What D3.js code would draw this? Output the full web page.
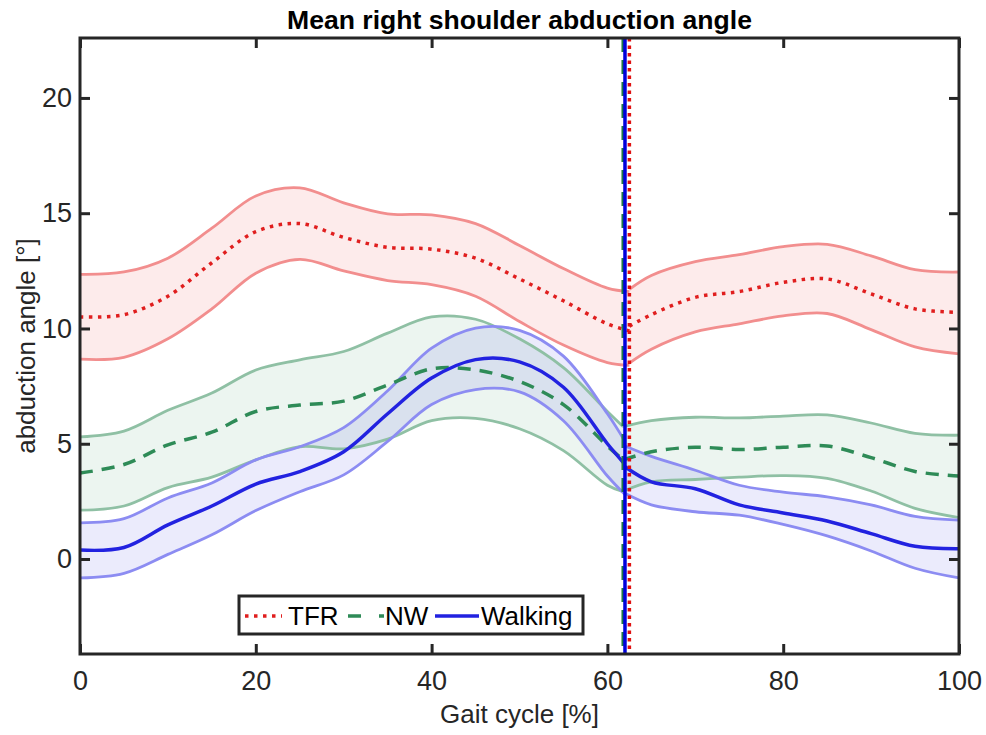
<!DOCTYPE html>
<meta charset="utf-8">
<html>
<head>
<title>Mean right shoulder abduction angle</title>
<script src="https://d3js.org/d3.v7.min.js"></script>
<style>
  body { margin: 0; background: #fff; }
  svg text { font-family: "Liberation Sans", Arial, sans-serif; fill: #262626; }
</style>
</head>
<body>
<script type="text/javascript">

// gait cycle sample points (the event point is added before / after)
var xPre = [0, 5, 10, 15, 20, 25, 30, 35, 40, 45, 50, 55, 60];
var xPost = [65, 70, 75, 80, 85, 90, 95, 100];

// event (end of stance) for each condition, % gait cycle
var tfrEvent = 62.5;
var nwEvent = 61.8;
var walkEvent = 62.0;

// TFR : mean and band, degrees (last pre value / first post value = at event)
var tfrUpperPre = [12.35, 12.45, 13.05, 14.35, 15.75, 16.1, 15.45, 14.97, 14.93, 14.55, 13.6, 12.6, 11.75, 11.6];
var tfrMeanPre  = [10.5, 10.6, 11.4, 12.85, 14.2, 14.55, 13.95, 13.52, 13.44, 13.05, 12.15, 11.2, 10.2, 9.9];
var tfrLowerPre = [8.67, 8.75, 9.55, 10.85, 12.4, 13.0, 12.5, 12.08, 11.9, 11.4, 10.3, 9.28, 8.52, 8.4];
var tfrUpperPost = [11.7, 12.3, 12.9, 13.2, 13.55, 13.65, 13.15, 12.55, 12.45];
var tfrMeanPost  = [10.1, 10.6, 11.35, 11.6, 12.0, 12.15, 11.5, 10.85, 10.7];
var tfrLowerPost = [8.5, 9.1, 9.85, 10.2, 10.55, 10.65, 9.95, 9.2, 8.9];

// NW
var nwUpperPre = [5.3, 5.55, 6.45, 7.2, 8.2, 8.64, 9.0, 9.8, 10.5, 10.4, 9.55, 8.3, 6.4, 5.74];
var nwMeanPre  = [3.73, 4.1, 4.95, 5.5, 6.4, 6.68, 6.85, 7.55, 8.25, 8.2, 7.7, 6.7, 4.9, 4.3];
var nwLowerPre = [2.12, 2.3, 3.1, 3.55, 4.3, 4.87, 4.78, 5.2, 6.0, 6.1, 5.65, 4.7, 3.2, 2.92];
var nwUpperPost = [5.74, 6.0, 6.15, 6.12, 6.2, 6.25, 5.9, 5.45, 5.37];
var nwMeanPost  = [4.3, 4.65, 4.85, 4.75, 4.85, 4.9, 4.4, 3.8, 3.6];
var nwLowerPost = [2.95, 3.35, 3.45, 3.55, 3.62, 3.5, 2.95, 2.2, 1.8];

// Walking
var walkUpperPre = [1.57, 1.75, 2.65, 3.3, 4.3, 4.87, 5.7, 7.3, 9.15, 10.02, 9.92, 8.8, 6.3, 5.1];
var walkMeanPre  = [0.39, 0.5, 1.48, 2.3, 3.25, 3.79, 4.65, 6.3, 7.85, 8.65, 8.55, 7.45, 5.0, 4.1];
var walkLowerPre = [-0.82, -0.62, 0.2, 1.05, 2.1, 2.92, 3.65, 5.1, 6.7, 7.35, 7.25, 6.0, 3.6, 2.8];
var walkUpperPost = [4.9, 4.45, 3.85, 3.2, 2.9, 2.7, 2.35, 1.85, 1.69];
var walkMeanPost  = [4.0, 3.35, 3.05, 2.35, 2.0, 1.65, 1.1, 0.55, 0.45];
var walkLowerPost = [2.85, 2.35, 2.05, 1.9, 1.5, 1.0, 0.35, -0.4, -0.82];

// ticks and labels
var xTicks = [0, 20, 40, 60, 80, 100];
var yTicks = [0, 5, 10, 15, 20];
var legendLabels = ["TFR", "NW", "Walking"];

drawChart();

function drawChart() {

	var width = 986;
	var height = 735;
	var margin = {top: 38, right: 27, bottom: 81, left: 80};

	var svg = d3.select("body")
		.append("svg")
		.attr("width", width)
		.attr("height", height);

	svg.append("rect")
		.attr("width", width)
		.attr("height", height)
		.style("fill", "#fff");

	var x = d3.scaleLinear()
		.domain([0, 100])
		.range([margin.left, width - margin.right]);

	var y = d3.scaleLinear()
		.domain([-4.12, 22.6])
		.range([height - margin.bottom, margin.top]);

	// build the conditions from the arrays above
	var groups = [
		{ name: "TFR", ev: tfrEvent, mean: "#e01e1e", band: "#f28e8e", fill: "#e61e1e", dash: "3.5,5.5",
		  upPre: tfrUpperPre, mPre: tfrMeanPre, loPre: tfrLowerPre, upPost: tfrUpperPost, mPost: tfrMeanPost, loPost: tfrLowerPost },
		{ name: "NW", ev: nwEvent, mean: "#2e8b57", band: "#8fc0a4", fill: "#2e8b57", dash: "13,9",
		  upPre: nwUpperPre, mPre: nwMeanPre, loPre: nwLowerPre, upPost: nwUpperPost, mPost: nwMeanPost, loPost: nwLowerPost },
		{ name: "Walking", ev: walkEvent, mean: "#2222e0", band: "#8c8cf2", fill: "#2222e0", dash: null,
		  upPre: walkUpperPre, mPre: walkMeanPre, loPre: walkLowerPre, upPost: walkUpperPost, mPost: walkMeanPost, loPost: walkLowerPost }
	];

	function segment(xs, up, m, lo) {
		return xs.map(function(d, i) { return {x: d, up: up[i], m: m[i], lo: lo[i]}; });
	}

	groups.forEach(function(g) {
		g.segs = [
			segment(xPre.concat([g.ev]), g.upPre, g.mPre, g.loPre),
			segment([g.ev].concat(xPost), g.upPost, g.mPost, g.loPost)
		];
	});

	var curve = d3.curveCatmullRom.alpha(0.5);

	var area = d3.area()
		.curve(curve)
		.x(function(d) { return x(d.x); })
		.y0(function(d) { return y(d.lo); })
		.y1(function(d) { return y(d.up); });

	function line(key) {
		return d3.line()
			.curve(curve)
			.x(function(d) { return x(d.x); })
			.y(function(d) { return y(d[key]); });
	}

	var plot = svg.append("g");

	// transparent bands first
	groups.forEach(function(g) {
		g.segs.forEach(function(s) {
			plot.append("path")
				.attr("d", area(s))
				.style("fill", g.fill)
				.style("fill-opacity", 0.09)
				.style("stroke", "none");
		});
	});

	// band edges
	groups.forEach(function(g) {
		g.segs.forEach(function(s) {
			["up", "lo"].forEach(function(k) {
				plot.append("path")
					.attr("d", line(k)(s))
					.style("fill", "none")
					.style("stroke", g.band)
					.style("stroke-width", 2.8);
			});
		});
	});

	// means
	groups.forEach(function(g) {
		g.segs.forEach(function(s) {
			plot.append("path")
				.attr("d", line("m")(s))
				.style("fill", "none")
				.style("stroke", g.mean)
				.style("stroke-width", 3.5)
				.style("stroke-dasharray", g.dash);
		});
	});

	// event lines
	var evLines = [
		{ ev: nwEvent, color: "#1f7a45", dash: "14,8" },
		{ ev: walkEvent, color: "#0000dc", dash: null },
		{ ev: tfrEvent, color: "#e01010", dash: "3.5,4" }
	];
	plot.selectAll(".evline")
		.data(evLines)
		.enter()
		.append("line")
		.attr("x1", function(d) { return x(d.ev); })
		.attr("x2", function(d) { return x(d.ev); })
		.attr("y1", y.range()[1])
		.attr("y2", y.range()[0])
		.style("stroke", function(d) { return d.color; })
		.style("stroke-width", 3.5)
		.style("stroke-dasharray", function(d) { return d.dash; });

	// axes, ticks inward on all four sides
	var axisColor = "#262626";
	var tickLen = 10;

	var xb = svg.append("g")
		.attr("transform", "translate(0," + y.range()[0] + ")")
		.call(d3.axisBottom(x).tickValues(xTicks).tickSizeInner(-tickLen).tickSizeOuter(0).tickPadding(17));
	var xt = svg.append("g")
		.attr("transform", "translate(0," + y.range()[1] + ")")
		.call(d3.axisTop(x).tickValues(xTicks).tickSizeInner(-tickLen).tickSizeOuter(0).tickFormat(""));
	var yl = svg.append("g")
		.attr("transform", "translate(" + x.range()[0] + ",0)")
		.call(d3.axisLeft(y).tickValues(yTicks).tickSizeInner(-tickLen).tickSizeOuter(0).tickPadding(8));
	var yr = svg.append("g")
		.attr("transform", "translate(" + x.range()[1] + ",0)")
		.call(d3.axisRight(y).tickValues(yTicks).tickSizeInner(-tickLen).tickSizeOuter(0).tickFormat(""));

	[xb, xt, yl, yr].forEach(function(a) {
		a.select(".domain").remove();
		a.selectAll(".tick line").style("stroke", axisColor).style("stroke-width", 3);
		a.selectAll(".tick text")
			.style("font-size", "27px")
			.style("font-family", "'Liberation Sans', Arial, sans-serif")
			.style("fill", axisColor);
	});
	xb.selectAll(".tick text").attr("dy", "0.71em");

	// box
	svg.append("rect")
		.attr("x", x.range()[0])
		.attr("y", y.range()[1])
		.attr("width", x.range()[1] - x.range()[0])
		.attr("height", y.range()[0] - y.range()[1])
		.style("fill", "none")
		.style("stroke", axisColor)
		.style("stroke-width", 3);

	// title and labels
	svg.append("text")
		.attr("x", (x.range()[0] + x.range()[1]) / 2)
		.attr("y", 29)
		.attr("text-anchor", "middle")
		.attr("textLength", 465)
		.attr("lengthAdjust", "spacingAndGlyphs")
		.style("font-size", "25px")
		.style("font-weight", "bold")
		.style("fill", "#000")
		.text("Mean right shoulder abduction angle");

	svg.append("text")
		.attr("x", (x.range()[0] + x.range()[1]) / 2)
		.attr("y", 723)
		.attr("text-anchor", "middle")
		.style("font-size", "26px")
		.text("Gait cycle [%]");

	svg.append("text")
		.attr("transform", "translate(35," + ((y.range()[0] + y.range()[1]) / 2) + ") rotate(-90)")
		.attr("text-anchor", "middle")
		.style("font-size", "26px")
		.text("abduction angle [°]");

	// legend
	var legend = svg.append("g");
	legend.append("rect")
		.attr("x", 239)
		.attr("y", 596)
		.attr("width", 344)
		.attr("height", 38)
		.style("fill", "#fff")
		.style("stroke", axisColor)
		.style("stroke-width", 3);

	var legendItems = [
		{ label: legendLabels[0], color: "#e01e1e", dash: "3.5,5.5", x0: 245, x1: 282, tx: 288 },
		{ label: legendLabels[1], color: "#2e8b57", dash: "13,18", x0: 348, x1: 384, tx: 385 },
		{ label: legendLabels[2], color: "#2222e0", dash: null, x0: 435, x1: 479, tx: 481 }
	];
	legendItems.forEach(function(d) {
		legend.append("line")
			.attr("x1", d.x0)
			.attr("x2", d.x1)
			.attr("y1", 616)
			.attr("y2", 616)
			.style("stroke", d.color)
			.style("stroke-width", 3.5)
			.style("stroke-dasharray", d.dash);
		legend.append("text")
			.attr("x", d.tx)
			.attr("y", 625)
			.style("font-size", "26px")
			.style("fill", "#000")
			.text(d.label);
	});
}

</script>
</body>
</html>
